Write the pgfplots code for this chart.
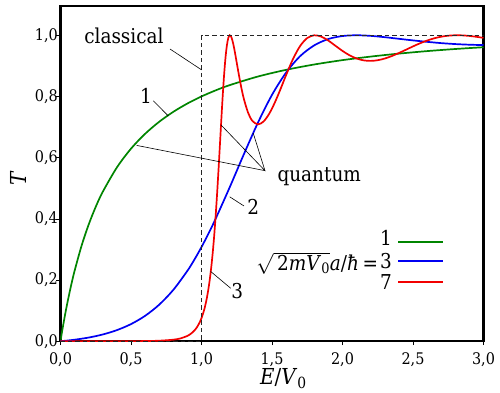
\documentclass[border=0pt]{standalone}
\usepackage{fontspec}
\setmainfont{DejaVu Serif}[FakeStretch=0.9]
\usepackage{pgfplots}
\pgfplotsset{compat=1.18}
\definecolor{cgreen}{rgb}{0,0.52,0}
\definecolor{cblue}{rgb}{0,0,0.95}
\definecolor{cred}{rgb}{0.95,0,0}
\newcommand{\lbl}{\fontsize{20.5}{24}\selectfont}
\begin{document}
\begin{tikzpicture}
\begin{axis}[
  scale only axis, width=423pt, height=335pt,
  xmin=0, xmax=3, ymin=0, ymax=1.095,
  axis line style={line width=2.2pt},
  xtick={0,0.5,1,1.5,2,2.5,3}, ytick={0,0.2,0.4,0.6,0.8,1},
  tick align=outside, tick pos=left, major tick length=4pt,
  tick style={line width=0.6pt, black},
  /pgf/number format/.cd, use comma, fixed, fixed zerofill, precision=1, assume math mode=true,
  /pgfplots/.cd,
  ticklabel style={font=\fontsize{16}{19}\selectfont, inner sep=1pt},
  yticklabel style={xshift=2.5pt},
  xticklabel style={yshift=-6.5pt},
  xlabel={\textit{E}/\textit{V}\textsubscript{0}},
  ylabel={\textit{T}},
  xlabel style={at={(axis description cs:0.527,0)}, anchor=base, yshift=-43.5pt, font=\fontsize{22}{26}\selectfont, inner sep=0pt},
  ylabel style={at={(axis description cs:-0.0993,0.486)}, anchor=center, font=\fontsize{22}{26}\selectfont, inner sep=0pt},
]
\addplot[cgreen, line width=1.7pt, smooth] coordinates {
(0,0) (0.01,0.0282) (0.02,0.0551) (0.035,0.0930) (0.05,0.1282) (0.075,0.1819) (0.1,0.2300) (0.15,0.3129) (0.2,0.3815) (0.25,0.4393) (0.3,0.4885) (0.4,0.5680) (0.5,0.6293) (0.6,0.6778) (0.7,0.7172) (0.8,0.7497) (0.9,0.7769) (1.0,0.8) (1.1,0.8198) (1.2,0.8370) (1.4,0.8651) (1.6,0.8870) (1.8,0.9045) (2.0,0.9187) (2.2,0.9303) (2.4,0.9400) (2.6,0.9482) (2.8,0.9551) (3.0,0.9609)};
\addplot[cblue, line width=1.7pt, smooth] coordinates {
(0,0) (0.05,0.0022) (0.1,0.0049) (0.2,0.0119) (0.3,0.0220) (0.4,0.0362) (0.5,0.0559) (0.6,0.0829) (0.7,0.1194) (0.8,0.1677) (0.9,0.2301) (0.95,0.2670) (1.0,0.3077) (1.05,0.3521) (1.1,0.4000) (1.2,0.5030) (1.3,0.6106) (1.4,0.7140) (1.5,0.8051) (1.6,0.8780) (1.7,0.9319) (1.8,0.9671) (1.9,0.9878) (2.0,0.9975) (2.1,1.0000) (2.2,0.9980) (2.3,0.9937) (2.4,0.9884) (2.5,0.9832) (2.6,0.9785) (2.7,0.9743) (2.8,0.9712) (2.9,0.9691) (3.0,0.9679)};
\addplot[cred, line width=1.7pt, smooth] coordinates {
(0,0) (0.5,0.0002) (0.6,0.0005) (0.7,0.0016) (0.8,0.0049) (0.85,0.0090) (0.9,0.0173) (0.93,0.0263) (0.95,0.0351) (0.97,0.0472) (0.99,0.0644) (1.0,0.0755) (1.01,0.0887) (1.02,0.1045) (1.03,0.1235) (1.04,0.1463) (1.05,0.1736) (1.06,0.2062) (1.07,0.2451) (1.08,0.2910) (1.09,0.3449) (1.10,0.4071) (1.11,0.4774) (1.12,0.5547) (1.13,0.6365) (1.14,0.7194) (1.15,0.7984) (1.16,0.8687) (1.17,0.9257) (1.18,0.9668) (1.19,0.9911) (1.20,0.9999) (1.21,0.9957) (1.22,0.9818) (1.23,0.9612) (1.24,0.9366) (1.26,0.8839) (1.28,0.8345) (1.30,0.7928) (1.33,0.7474) (1.36,0.7205) (1.40,0.7087) (1.44,0.7181) (1.48,0.7433) (1.52,0.7800) (1.56,0.8236) (1.60,0.8698) (1.65,0.9234) (1.70,0.9652) (1.75,0.9910) (1.80,0.9999) (1.85,0.9954) (1.90,0.9824) (1.95,0.9656) (2.00,0.9488) (2.05,0.9345) (2.10,0.9240) (2.15,0.9179) (2.20,0.9162) (2.25,0.9184) (2.30,0.9240) (2.35,0.9321) (2.40,0.9420) (2.45,0.9527) (2.50,0.9636) (2.55,0.9738) (2.60,0.9827) (2.65,0.9900) (2.70,0.9953) (2.75,0.9986) (2.80,0.99995) (2.85,0.9996) (2.90,0.9978) (2.95,0.9949) (3.00,0.9914)};
\addplot[black!85, line width=1.2pt, dash pattern=on 4.5pt off 3pt] coordinates {(0,0) (1,0) (1,1) (3,1)};
% annotations
\draw[black, line width=0.6pt] (0.777,0.955) -- (1.0,0.887);
\node[anchor=base, font=\lbl] at (0.450,0.974) {classical};
\draw[black, line width=0.6pt] (0.658,0.786) -- (0.765,0.736);
\node[anchor=base, font=\lbl] at (0.606,0.778) {1};
\draw[black, line width=0.6pt] (0.540,0.640) -- (1.450,0.5575) -- (1.138,0.707);
\draw[black, line width=0.6pt] (1.450,0.5575) -- (1.367,0.680);
\node[anchor=base, font=\lbl] at (1.835,0.5216) {quantum};
\draw[black, line width=0.6pt] (1.301,0.442) -- (1.200,0.472);
\node[anchor=base, font=\lbl] at (1.367,0.4127) {2};
\draw[black, line width=0.6pt] (1.207,0.173) -- (1.065,0.228);
\node[anchor=base, font=\lbl] at (1.253,0.138) {3};
% legend
\node[anchor=base east, font=\lbl, inner sep=0pt] at (2.253,0.232) {$\sqrt{\,\mbox{2\textit{mV}\textsubscript{0}}}$\textit{a}/\textit{ħ}\,=};
\node[anchor=base, font=\lbl, inner sep=0pt] at (2.309,0.3114) {1};
\node[anchor=base, font=\lbl, inner sep=0pt] at (2.309,0.2389) {3};
\node[anchor=base, font=\lbl, inner sep=0pt] at (2.309,0.170) {7};
\draw[cgreen, line width=1.7pt] (2.394,0.3245) -- (2.713,0.3245);
\draw[cblue, line width=1.7pt] (2.394,0.262) -- (2.713,0.262);
\draw[cred, line width=1.7pt] (2.394,0.1938) -- (2.713,0.1938);
\end{axis}
\pgfresetboundingbox
\path[use as bounding box] ([shift={(-60.5pt,-51.7pt)}]current axis.south west) rectangle ([shift={(16.5pt,6.2pt)}]current axis.north east);
\end{tikzpicture}
\end{document}
